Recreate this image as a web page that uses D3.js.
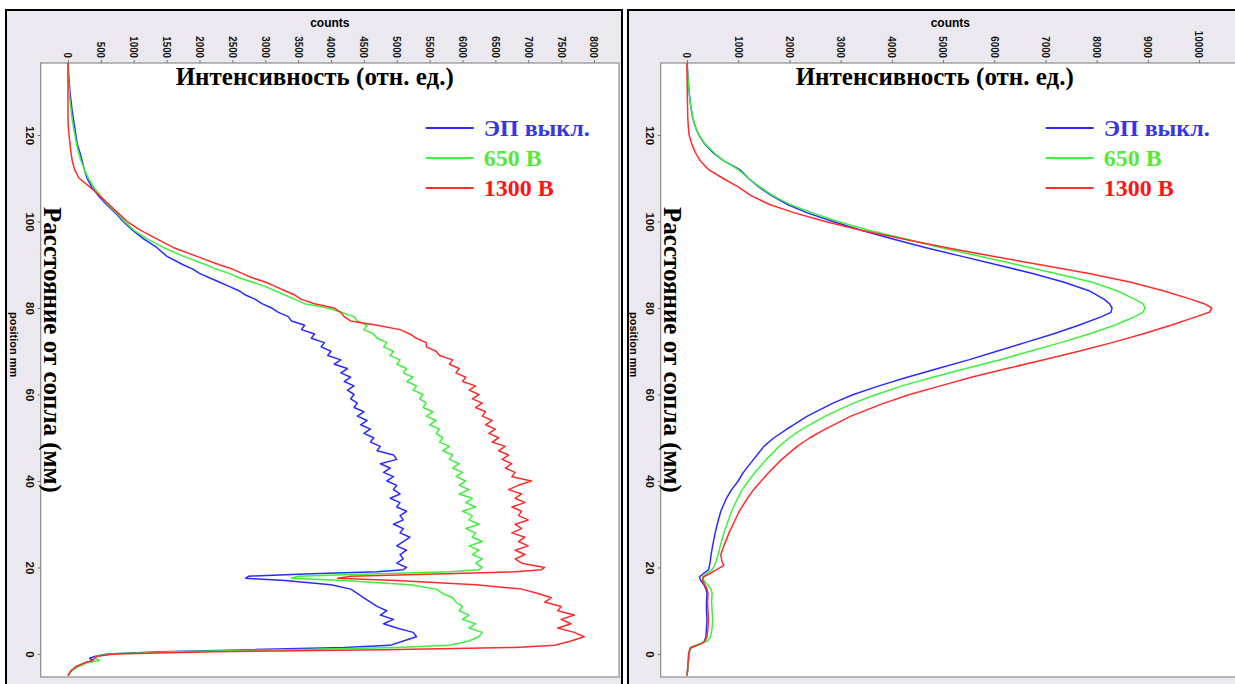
<!doctype html>
<html>
<head>
  <meta charset="utf-8">
  <title>Интенсивность vs расстояние от сопла</title>
  <script src="https://cdnjs.cloudflare.com/ajax/libs/d3/7.8.5/d3.min.js"></script>
  <style>
    html, body { margin: 0; padding: 0; background: #fff; }
    svg { display: block; }
  </style>
</head>
<body>
<div id="chart"></div>
<script>
// ---- data ----
const seriesNames = ['ЭП выкл.', '650 В', '1300 В'];
const lineColors = ['#2b2bff', '#3cf03c', '#ff2b2b'];
const textColors = ['#3636e6', '#58e83a', '#ff1414'];

const countTicksL = [0, 500, 1000, 1500, 2000, 2500, 3000, 3500, 4000, 4500, 5000, 5500, 6000, 6500, 7000, 7500, 8000];
const countTicksR = [0, 1000, 2000, 3000, 4000, 5000, 6000, 7000, 8000, 9000, 10000];
const posTicks = [0, 20, 40, 60, 80, 100, 120];

// left panel: position (mm)
const posL = [-5, -4, -3, -2, -1.5, -1, -0.5, 0, 0.5, 1, 1.5, 2,
  3, 4, 5, 6, 7, 8, 9, 10, 11, 12, 13, 14, 15, 16, 17,
  17.5, 18, 18.5, 19, 19.5,
  20, 21, 22, 23, 24, 25, 26, 27, 28, 29,
  30, 31, 32, 33, 34, 35, 36, 37, 38, 39,
  40, 41, 42, 43, 44, 45, 46, 47, 48, 49,
  50, 51, 52, 53, 54, 55, 56, 57, 58, 59,
  60, 61, 62, 63, 64, 65, 66, 67, 68, 69,
  70, 71, 72, 73, 74, 75, 76, 77, 78, 79,
  80, 81, 82, 83, 84, 85, 86, 87, 88, 89,
  90, 92, 94, 96, 98, 100, 102, 104, 106, 108, 110, 112, 114, 116, 118,
  120, 122, 124, 126, 128, 130, 132, 134, 136, 137];

const blueL = [0, 40, 120, 260, 380, 330, 420, 600, 1400, 2800, 4200, 4900,
  5100, 5300, 5250, 5000, 4800, 4950, 4750, 4850, 4700, 4600, 4500, 4400, 4300, 4000, 3300,
  2700, 2750, 3600, 4700, 5100,
  5150, 5000, 5100, 5050, 5150, 5000, 5100, 5200, 5050, 5100,
  4950, 5100, 5050, 5150, 5000, 5050, 4900, 5050, 4950, 5000,
  4850, 4950, 4800, 4900, 4750, 5000, 4950, 4700, 4750, 4600,
  4650, 4500, 4600, 4450, 4550, 4400, 4500, 4350, 4400, 4300,
  4350, 4250, 4350, 4200, 4300, 4150, 4250, 4050, 4150, 3950,
  4000, 3850, 3900, 3700, 3750, 3550, 3600, 3400, 3350, 3200,
  3100, 2950, 2850, 2700, 2600, 2450, 2300, 2150, 2000, 1900,
  1750, 1500, 1350, 1150, 980, 840, 720, 580, 460, 360, 290, 250, 215, 180, 140,
  120, 100, 80, 60, 45, 30, 20, 10, 5, 0];

const greenL = [0, 50, 150, 300, 480, 420, 430, 650, 1600, 3400, 5000, 5800,
  6100, 6250, 6300, 6100, 6200, 6000, 6100, 5950, 6000, 5900, 5850, 5700, 5600, 5200, 4200,
  3400, 3500, 4600, 5800, 6250,
  6300, 6200, 6300, 6150, 6250, 6100, 6300, 6150, 6200, 6050,
  6250, 6100, 6150, 6000, 6200, 6050, 6150, 5950, 6100, 5950,
  6050, 5900, 6000, 5850, 5950, 5800, 5850, 5700, 5800, 5650,
  5700, 5600, 5650, 5500, 5600, 5450, 5550, 5400, 5450, 5350,
  5400, 5250, 5300, 5150, 5250, 5100, 5150, 5000, 5050, 4900,
  4950, 4800, 4850, 4700, 4650, 4500, 4550, 4400, 4350, 4150,
  3950, 3600, 3450, 3300, 3150, 3000, 2800, 2600, 2450, 2250,
  2100, 1750, 1450, 1200, 1000, 860, 740, 600, 490, 390, 310, 250, 200, 160, 130,
  105, 80, 60, 45, 30, 20, 10, 5, 0, 0];

const redL = [0, 40, 110, 260, 380, 400, 450, 700, 2200, 4800, 6800, 7400,
  7650, 7850, 7700, 7450, 7650, 7500, 7700, 7450, 7500, 7250, 7350, 7150, 6900, 6200, 5000,
  4100, 4300, 5600, 6800, 7200,
  7250, 6900, 6800, 6950, 6800, 7000, 6850, 6950, 6750, 6900,
  6800, 7000, 6850, 6900, 6750, 6950, 6800, 6900, 6700, 6850,
  7050, 6750, 6800, 6650, 6750, 6600, 6700, 6550, 6650, 6450,
  6550, 6400, 6500, 6350, 6450, 6300, 6350, 6200, 6300, 6150,
  6250, 6100, 6200, 6000, 6050, 5900, 5950, 5800, 5850, 5650,
  5600, 5450, 5450, 5300, 5200, 5050, 4700, 4300, 4200, 4150,
  4050, 3750, 3550, 3450, 3300, 3150, 3000, 2800, 2650, 2500,
  2300, 1950, 1600, 1350, 1100, 900, 760, 620, 480, 330, 170, 100, 65, 45, 30,
  15, 5, 0, 0, 0, 0, 0, 0, 0, 0];

// right panel: position (mm)
const posR = [-5, -3, 0, 1, 1.5, 2, 2.5, 3, 4,
  6, 8, 10, 12, 14, 15, 16, 17, 17.8, 18.5,
  19.5, 20.5, 21.5, 23, 25, 28, 30, 33, 36, 38,
  40, 42, 45, 48, 50, 52, 55, 58, 60, 62,
  64, 66, 68, 70, 72, 74, 76, 78, 79, 80,
  81, 82, 84, 86, 88, 90, 92, 94, 96, 98,
  100, 102, 104, 106, 108, 110, 112, 114, 116, 118,
  120, 122, 124, 127, 130, 134, 137];

const blueR = [0, 20, 40, 60, 90, 200, 300, 340, 370,
  380, 390, 380, 380, 390, 370, 330, 270, 240, 310,
  420, 440, 455, 470, 500, 550, 590, 660, 770, 870,
  1000, 1100, 1300, 1500, 1700, 1950, 2350, 2850, 3250, 3750,
  4300, 4900, 5500, 6050, 6600, 7150, 7650, 8100, 8280, 8300,
  8250, 8150, 7850, 7350, 6750, 6050, 5350, 4650, 4000, 3400,
  2850, 2350, 1950, 1650, 1400, 1200, 1030, 720, 500, 340,
  230, 160, 110, 70, 40, 15, 0];

const greenR = [0, 20, 40, 60, 80, 150, 280, 400, 460,
  490, 500, 490, 480, 490, 470, 400, 330, 300, 370,
  490, 540, 570, 610, 650, 720, 780, 870, 990, 1080,
  1200, 1330, 1550, 1800, 2000, 2250, 2700, 3250, 3700, 4200,
  4800, 5450, 6100, 6700, 7300, 7850, 8350, 8750, 8900, 8950,
  8900, 8750, 8400, 7900, 7200, 6450, 5700, 4950, 4250, 3550,
  2950, 2450, 2000, 1680, 1420, 1200, 1000, 720, 520, 350,
  230, 160, 110, 70, 40, 15, 0];

const redR = [0, 15, 30, 50, 70, 200, 300, 350, 390,
  410, 420, 410, 400, 410, 390, 350, 300, 320, 430,
  580, 720, 680, 660, 720, 820, 900, 1020, 1180, 1300,
  1450, 1600, 1850, 2150, 2400, 2700, 3200, 3850, 4350, 4950,
  5550, 6250, 6950, 7650, 8300, 8900, 9450, 9950, 10200, 10250,
  10100, 9850, 9300, 8650, 7850, 6900, 5950, 5050, 4200, 3400,
  2700, 2100, 1600, 1250, 1000, 700, 420, 260, 160, 90,
  40, 25, 15, 10, 5, 0, 0];

// ---- drawing ----
const svg = d3.select('#chart')
  .append('svg')
  .attr('width', 1235)
  .attr('height', 684);

const sansBold = '"Liberation Sans", Arial, sans-serif';
const serifBold = '"Liberation Serif", "Times New Roman", serif';

const panels = [
  { frameX: 6, plotX: 40.7, plotW: 578.3, cDomain: [-415, 8380], ticks: countTicksL,
    pos: posL, series: [blueL, greenL, redL], id: 'L' },
  { frameX: 628, plotX: 660.7, plotW: 579.3, cDomain: [-514, 10800], ticks: countTicksR,
    pos: posR, series: [blueR, greenR, redR], id: 'R' }
];

const plotY = 63, plotH = 614;

panels.forEach(p => {
  // grey panel with black frame
  svg.append('rect')
    .attr('x', p.frameX)
    .attr('y', 10)
    .attr('width', 616)
    .attr('height', 700)
    .style('fill', '#ebe9ef')
    .style('stroke', '#000')
    .style('stroke-width', 2);

  const g = svg.append('g')
    .attr('transform', `translate(${p.plotX},${plotY})`);

  g.append('rect')
    .attr('width', p.plotW)
    .attr('height', plotH)
    .style('fill', '#fff')
    .style('stroke', '#8c8c8c')
    .style('stroke-width', 1.2);

  g.append('clipPath').attr('id', 'clip' + p.id)
    .append('rect').attr('width', p.plotW).attr('height', plotH);

  const x = d3.scaleLinear().domain(p.cDomain).range([0, p.plotW]);
  const y = d3.scaleLinear().domain([-5.32, 136.65]).range([plotH, 0]);

  // counts axis on top, labels turned 90deg
  const xAxis = g.append('g')
    .call(d3.axisTop(x).tickValues(p.ticks).tickFormat(d3.format('d')).tickSize(3).tickSizeOuter(0));
  xAxis.select('.domain').remove();
  xAxis.selectAll('line').style('stroke', '#777');
  xAxis.selectAll('text')
    .attr('x', 0).attr('y', 0)
    .attr('dy', '0.35em')
    .attr('text-anchor', 'end')
    .attr('transform', 'translate(0,-5) rotate(90) scale(0.85,1)')
    .style('font-family', sansBold)
    .style('font-weight', 'bold')
    .style('font-size', '11.5px')
    .style('fill', '#111');

  g.append('text')
    .attr('x', p.plotW / 2)
    .attr('y', -36)
    .attr('text-anchor', 'middle')
    .style('font-family', sansBold)
    .style('font-weight', 'bold')
    .style('font-size', '12px')
    .text('counts');

  // position axis on the left
  const yAxis = g.append('g')
    .call(d3.axisLeft(y).tickValues(posTicks).tickSize(3).tickSizeOuter(0));
  yAxis.select('.domain').remove();
  yAxis.selectAll('line').style('stroke', '#777');
  yAxis.selectAll('text')
    .attr('x', 0).attr('y', 0)
    .attr('dy', 0)
    .attr('text-anchor', 'middle')
    .attr('transform', 'translate(-14.5,0) rotate(90)')
    .style('font-family', sansBold)
    .style('font-weight', 'bold')
    .style('font-size', '11.5px')
    .style('fill', '#111');

  g.append('text')
    .attr('transform', 'translate(-30.5,249) rotate(90)')
    .style('font-family', sansBold)
    .style('font-weight', 'bold')
    .style('font-size', '11px')
    .text('position mm');

  // curves
  const line = d3.line()
    .x(d => x(d.c))
    .y(d => y(d.p));

  const curves = g.append('g').attr('clip-path', `url(#clip${p.id})`);
  p.series.forEach((vals, i) => {
    curves.append('path')
      .datum(p.pos.map((pp, j) => ({ p: pp, c: vals[j] })))
      .attr('d', line)
      .style('fill', 'none')
      .style('stroke', lineColors[i])
      .style('stroke-width', 1.5)
      .style('stroke-linejoin', 'round');
  });

  // big russian titles
  g.append('text')
    .attr('x', 274)
    .attr('y', 22)
    .attr('text-anchor', 'middle')
    .style('font-family', serifBold)
    .style('font-weight', 'bold')
    .style('font-size', '25px')
    .text('Интенсивность (отн. ед.)');

  g.append('text')
    .attr('transform', 'translate(3.5,287) rotate(90)')
    .attr('text-anchor', 'middle')
    .style('font-family', serifBold)
    .style('font-weight', 'bold')
    .style('font-size', '25px')
    .text('Расстояние от сопла (мм)');

  // legend
  const legend = g.append('g');
  seriesNames.forEach((name, i) => {
    const ly = 65 + i * 30;
    legend.append('line')
      .attr('x1', 385).attr('x2', 433)
      .attr('y1', ly).attr('y2', ly)
      .style('stroke', lineColors[i])
      .style('stroke-width', 2);
    legend.append('text')
      .attr('x', 443)
      .attr('y', ly + 8)
      .style('font-family', serifBold)
      .style('font-weight', 'bold')
      .style('font-size', '24px')
      .style('fill', textColors[i])
      .text(name);
  });
});
</script>
</body>
</html>
